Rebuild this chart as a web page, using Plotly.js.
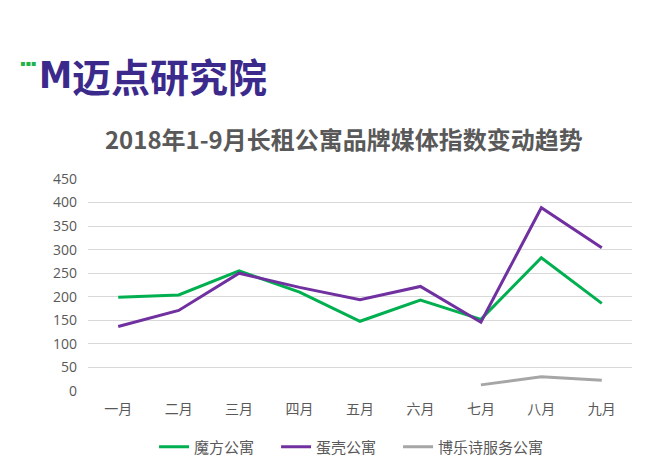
<!DOCTYPE html>
<html>
<head>
<meta charset="utf-8">
<script src="https://cdn.plot.ly/plotly-3.0.1.min.js"></script>
<style>
  html, body { margin: 0; padding: 0; background: #fff; }
  #chart { width: 650px; height: 470px; }
</style>
</head>
<body>
<div id="chart"></div>
<script>
// months on the x axis
const months = ["一月", "二月", "三月", "四月", "五月", "六月", "七月", "八月", "九月"];

// brand media index
const mofang = [199, 204, 255, 210, 148, 193, 152, 283, 186];
const danke = [137, 171, 250, 220, 194, 222, 146, 389, 304];
const bolesi = [null, null, null, null, null, null, 13, 30, 23];

const yTicks = [0, 50, 100, 150, 200, 250, 300, 350, 400, 450];

const cjk = '"Noto Sans CJK SC", "Microsoft YaHei", sans-serif';

const traces = [
    {
        x: months, y: mofang, name: "魔方公寓", type: "scatter", mode: "lines",
        line: {color: "#00b050", width: 3}, legendwidth: 77
    },
    {
        x: months, y: danke, name: "蛋壳公寓", type: "scatter", mode: "lines",
        line: {color: "#7030a0", width: 3}, legendwidth: 77
    },
    {
        x: months, y: bolesi, name: "博乐诗服务公寓", type: "scatter", mode: "lines",
        line: {color: "#a6a6a6", width: 3}, legendwidth: 112
    }
];

const layout = {
    width: 650,
    height: 470,
    margin: {l: 88, r: 18, t: 179, b: 79, autoexpand: false},
    paper_bgcolor: "#fff",
    plot_bgcolor: "#fff",
    font: {family: cjk, size: 14, color: "#595959"},
    showlegend: true,
    title: {
        text: "<b>2018年1-9月长租公寓品牌媒体指数变动趋势</b>",
        font: {family: cjk, size: 24, color: "#595959"},
        x: 0.529, xanchor: "center",
        y: 0.70, yanchor: "middle"
    },
    xaxis: {
        type: "category",
        range: [-0.5, 8.5],
        showgrid: false,
        zeroline: false,
        showline: false,
        ticks: "",
        ticklabelstandoff: 8,
        tickfont: {family: cjk, size: 14, color: "#595959"},
        fixedrange: true
    },
    yaxis: {
        range: [0, 450],
        tickvals: yTicks,
        gridcolor: "#d9d9d9",
        gridwidth: 1,
        zeroline: false,
        showline: false,
        ticks: "",
        ticklabelstandoff: 10,
        tickfont: {family: '"Open Sans", "DejaVu Sans", sans-serif', size: 14, color: "#595959"},
        fixedrange: true
    },
    legend: {
        orientation: "h",
        x: 0.49, xanchor: "center",
        y: -0.264, yanchor: "middle",
        font: {family: cjk, size: 15, color: "#595959"},
        itemwidth: 30,
        tracegroupgap: 0
    },
    annotations: [
        {
            xref: "paper", yref: "paper", x: -0.093, y: 1.49,
            xanchor: "left", yanchor: "middle", showarrow: false,
            text: "<b>M</b>",
            font: {family: '"DejaVu Sans Condensed", "DejaVu Sans", sans-serif', size: 37, color: "#3b2a8c"}
        },
        {
            xref: "paper", yref: "paper", x: -0.128, y: 1.545,
            xanchor: "left", yanchor: "middle", showarrow: false,
            text: "▪▪▪",
            font: {family: '"DejaVu Sans", sans-serif', size: 8, color: "#22b24c"}
        },
        {
            xref: "paper", yref: "paper", x: -0.034, y: 1.49,
            xanchor: "left", yanchor: "middle", showarrow: false,
            text: "<b>迈点研究院</b>",
            font: {family: cjk, size: 39, color: "#3b2a8c"}
        }
    ]
};

Plotly.newPlot("chart", traces, layout, {displayModeBar: false, staticPlot: true});
</script>
</body>
</html>
